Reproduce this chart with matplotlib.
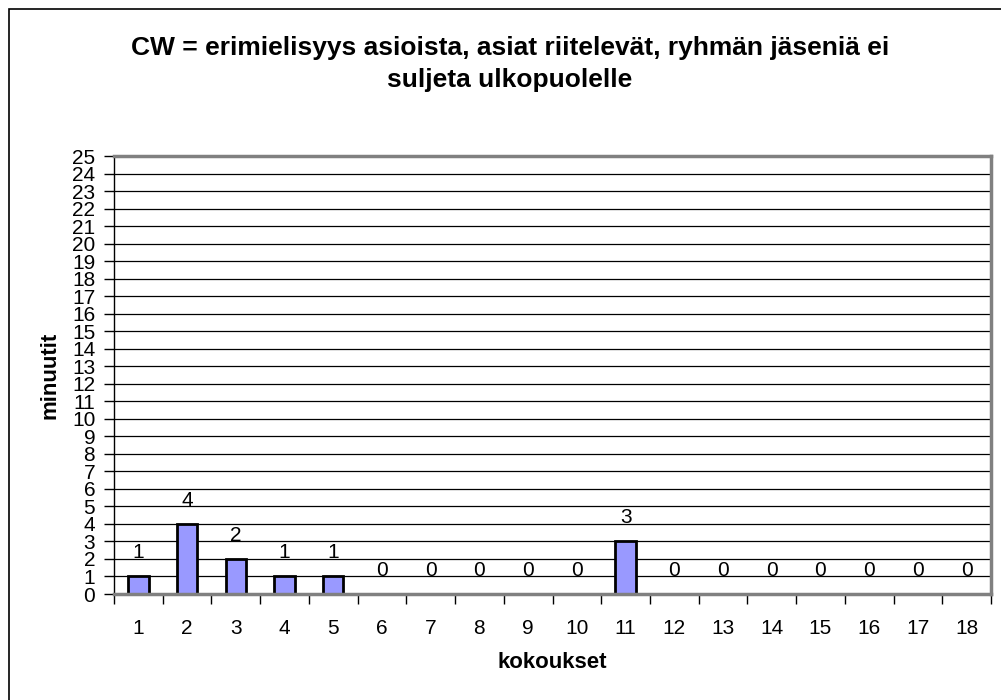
import matplotlib.pyplot as plt
import numpy as np
from matplotlib.patches import Rectangle

plt.rcParams['font.family'] = ['Liberation Sans', 'DejaVu Sans']

# data
meetings = list(range(1, 19))
minutes = [1, 4, 2, 1, 1, 0, 0, 0, 0, 0, 3, 0, 0, 0, 0, 0, 0, 0]
title = "CW = erimielisyys asioista, asiat riitelevät, ryhmän jäseniä ei\nsuljeta ulkopuolelle"
xlabel = "kokoukset"
ylabel = "minuutit"

fig = plt.figure(figsize=(10.01, 7.0), dpi=100)
ax = fig.add_axes([114 / 1001, 1 - 594 / 700, (991 - 114) / 1001, (594 - 156) / 700])

# outer chart frame (cropped at right and bottom in the reference)
fig.patches.append(Rectangle((9 / 1001, -0.1), 1.2, 1 - 9 / 700 + 0.1,
                             transform=fig.transFigure, fill=False,
                             edgecolor='black', linewidth=1.2))

ax.bar(meetings, minutes, width=0.42, color='#9999ff', edgecolor='black',
       linewidth=2, zorder=2)

for x, v in zip(meetings, minutes):
    ax.annotate(str(v), (x, v), xytext=(0, 17), textcoords='offset points',
                ha='center', va='center', fontsize=15)

ax.set_xlim(0.5, 18.5)
ax.set_ylim(0, 25)
ax.set_yticks(range(0, 26))
ax.yaxis.grid(True, color='black', linewidth=0.9)
ax.set_axisbelow(True)

ax.set_xticks(meetings)
ax.set_xticks(np.arange(0.5, 19, 1), minor=True)
ax.tick_params(axis='x', which='major', length=0, pad=18, labelsize=15)
ax.tick_params(axis='x', which='minor', length=7, width=1, color='black')
ax.tick_params(axis='y', length=7, width=1, color='black', pad=6.5, labelsize=15)

for s in ['top', 'right', 'bottom']:
    ax.spines[s].set_color('#808080')
    ax.spines[s].set_linewidth(2.5)
ax.spines['left'].set_color('black')
ax.spines['left'].set_linewidth(1)

ax.set_xlabel(xlabel, fontsize=16, fontweight='bold', labelpad=10)
ax.set_ylabel(ylabel, fontsize=16, fontweight='bold', labelpad=8)

fig.text(510 / 1001, 1 - 64 / 700, title, ha='center', va='center',
         fontsize=19, fontweight='bold', linespacing=1.45)

fig.savefig('out.png', dpi=100)
